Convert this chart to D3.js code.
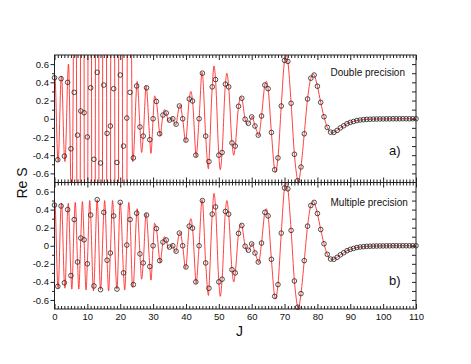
<!DOCTYPE html>
<html>
<head>
<meta charset="utf-8">
<script src="https://cdn.jsdelivr.net/npm/d3@7/dist/d3.min.js"></script>
<style>
  body { margin: 0; background: #fff; }
  svg { display: block; }
  text { font-family: "Liberation Sans", Arial, Helvetica, sans-serif; fill: #111; }
</style>
</head>
<body>
<svg width="471" height="364"></svg>
<script>
// sampled points (open circles), one per integer J = 0..110
var jSamples = d3.range(0, 111);
var reS = [
   0.45, -0.45,  0.44, -0.41,  0.40, -0.33,  0.29, -0.18,  0.085, 0.066,
  -0.20,  0.34, -0.445, 0.51, -0.486, 0.37, -0.16, -0.08,  0.33, -0.48,
   0.48, -0.30,  0.008, 0.29, -0.43,  0.36, -0.09, -0.19,  0.34, -0.23,
   0.0,   0.19, -0.165, 0.04,  0.063,-0.015, 0.0,  -0.06,  0.14,  0.0,
  -0.235, 0.217, 0.195,-0.40,  0.0,   0.50, -0.19, -0.47,  0.35,  0.43,
  -0.40, -0.37,  0.38,  0.35, -0.265,-0.30,  0.137, 0.225,-0.005,-0.05,
   0.02, -0.08, -0.18,  0.03,  0.37,  0.33, -0.15, -0.56, -0.43,  0.14,
   0.64,  0.63,  0.17, -0.39, -0.68, -0.53, -0.165, 0.217, 0.445, 0.48,
   0.357, 0.18,  0.022,-0.095,-0.147,-0.15, -0.128,-0.10, -0.077,-0.055,
  -0.04, -0.03, -0.02, -0.014,-0.01, -0.007,-0.005,-0.004,-0.003,-0.002,
  -0.002,-0.001,-0.001, 0.0,   0.0,   0.0,   0.0,   0.0,   0.0,   0.0,
   0.0
];

// peaks / troughs of the continuous (red) curve lying between the samples
var extJ = [0.11, 1.11, 2.14, 3.18, 4.2, 5.27, 6.32, 7.4, 8.49, 9.6, 10.72, 11.86,
            15.26, 16.47, 17.68, 21.36, 22.6, 23.78, 25.15, 26.5, 27.9, 29.35, 30.45,
            32.1, 33.4, 34.7, 35.8, 36.9, 38.2, 39.9, 41.5, 43.05, 44.9, 46.85, 48.55,
            50.45, 52.45, 54.55, 56.7, 58.6, 60.1, 62.1, 64.45, 67.25, 70.5, 74.15,
            78.8, 84.5];
var extV = [0.47, -0.47, 0.47, -0.47, 0.47, -0.48, 0.48, -0.48, 0.49, -0.49, 0.5, -0.5,
            0.5, -0.5, 0.5, -0.49, 0.48, -0.46, 0.41, -0.37, 0.36, -0.38, 0.25,
            -0.19, 0.10, -0.03, 0.015, -0.07, 0.15, -0.25, 0.30, -0.42, 0.51, -0.55, 0.58,
            -0.56, 0.50, -0.40, 0.24, -0.06, 0.03, -0.19, 0.41, -0.59, 0.70, -0.70,
            0.49, -0.157];

// double precision run: the curve blows up between J~4 and J~24
var wildJ = [4.26, 5.25, 6.32, 7.4, 8.49, 9.6, 10.72, 11.86, 13.0, 14.0, 15.26, 16.47,
             17.68, 19.0, 20.0, 21.36, 22.6, 23.78];
var wildV = [0.60, -1.1, 3, -6, 9, -10, 10, -10, 10, -10, 10, -10,
             10, -10, 10, -10, 6, -0.47];

var xTicks = [0, 10, 20, 30, 40, 50, 60, 70, 80, 90, 100, 110];
var yTicks = [-0.6, -0.4, -0.2, 0, 0.2, 0.4, 0.6];
var yMinor = [-0.5, -0.3, -0.1, 0.1, 0.3, 0.5];

var svg = d3.select("svg");
var x = d3.scaleLinear().domain([0, 110]).range([54.5, 416]);
var xMinor = d3.range(0, 111).filter(function(d) { return d % 10 !== 0; });

// full (correct) curve points: samples + extrema, sorted by J
var truePts = jSamples.map(function(j, i) { return [j, reS[i]]; })
  .concat(extJ.map(function(j, i) { return [j, extV[i]]; }))
  .sort(function(a, b) { return a[0] - b[0]; });

var topPts = truePts.filter(function(d) { return d[0] < 4; })
  .concat(wildJ.map(function(j, i) { return [j, wildV[i]]; }))
  .concat(truePts.filter(function(d) { return d[0] >= 24; }));

var panels = [
  {id: "a", top: 55, bottom: 182.5, pts: topPts, title: "Double precision", titleY: 75.5, tag: "a)", tagY: 155},
  {id: "b", top: 182.5, bottom: 309, pts: truePts, title: "Multiple precision", titleY: 206, tag: "b)", tagY: 285}
];

var fmt = function(d) { return d === 0 ? "0" : d.toFixed(1); };

panels.forEach(function(p, k) {
  var y = d3.scaleLinear().domain([-0.7, 0.7]).range([p.bottom, p.top]);
  var g = svg.append("g");

  svg.append("clipPath").attr("id", "clip" + p.id)
    .append("rect")
    .attr("x", x(0)).attr("y", p.top)
    .attr("width", x(110) - x(0)).attr("height", p.bottom - p.top);

  var line = d3.line()
    .x(function(d) { return x(d[0]); })
    .y(function(d) { return y(d[1]); })
    .curve(d3.curveMonotoneX);

  g.append("path")
    .datum(p.pts)
    .attr("clip-path", "url(#clip" + p.id + ")")
    .attr("fill", "none")
    .attr("stroke", "#ff2020")
    .attr("stroke-width", 0.85)
    .attr("d", line);

  g.selectAll("circle")
    .data(jSamples)
    .enter().append("circle")
    .attr("cx", function(d) { return x(d); })
    .attr("cy", function(d, i) { return y(reS[i]); })
    .attr("r", 2.3)
    .attr("fill", "none")
    .attr("stroke", "#222")
    .attr("stroke-width", 0.8);

  // frame
  g.append("rect")
    .attr("x", x(0)).attr("y", p.top)
    .attr("width", x(110) - x(0)).attr("height", p.bottom - p.top)
    .attr("fill", "none").attr("stroke", "#222").attr("stroke-width", 1);

  // x ticks, inward on top and bottom
  var xb = g.append("g").attr("transform", "translate(0," + p.bottom + ")");
  xb.call(d3.axisBottom(x).tickValues(xTicks).tickSize(-5).tickPadding(4.5)
    .tickFormat(k === 1 ? d3.format("d") : ""));
  xb.append("g").call(d3.axisBottom(x).tickValues(xMinor).tickSize(-3).tickFormat(""));

  var xt = g.append("g").attr("transform", "translate(0," + p.top + ")");
  xt.call(d3.axisTop(x).tickValues(xTicks).tickSize(-5).tickFormat(""));
  xt.append("g").call(d3.axisTop(x).tickValues(xMinor).tickSize(-3).tickFormat(""));

  // y ticks: left labelled, right inward
  var yl = g.append("g").attr("transform", "translate(" + x(0) + ",0)");
  yl.call(d3.axisLeft(y).tickValues(yTicks).tickSize(4).tickPadding(1.5).tickFormat(fmt));
  yl.append("g").call(d3.axisLeft(y).tickValues(yMinor).tickSize(2.5).tickFormat(""));

  var yr = g.append("g").attr("transform", "translate(" + x(110) + ",0)");
  yr.call(d3.axisRight(y).tickValues(yTicks.concat(yMinor)).tickSize(-4).tickFormat(""));

  g.selectAll(".domain").remove();
  g.selectAll(".tick line").attr("stroke", "#222");
  g.selectAll(".tick text").attr("font-size", "9.5px").attr("fill", "#111")
    .style("font-family", "'Liberation Sans', Arial, sans-serif");

  g.append("text").attr("x", 330.5).attr("y", p.titleY)
    .attr("font-size", "10px").text(p.title);
  g.append("text").attr("x", 389).attr("y", p.tagY)
    .attr("font-size", "13px").text(p.tag);
});

svg.append("text")
  .attr("transform", "translate(27,183) rotate(-90)")
  .attr("text-anchor", "middle")
  .attr("font-size", "14px")
  .text("Re S");

svg.append("text")
  .attr("x", 239.5).attr("y", 336)
  .attr("text-anchor", "middle")
  .attr("font-size", "14px")
  .text("J");
</script>
</body>
</html>
